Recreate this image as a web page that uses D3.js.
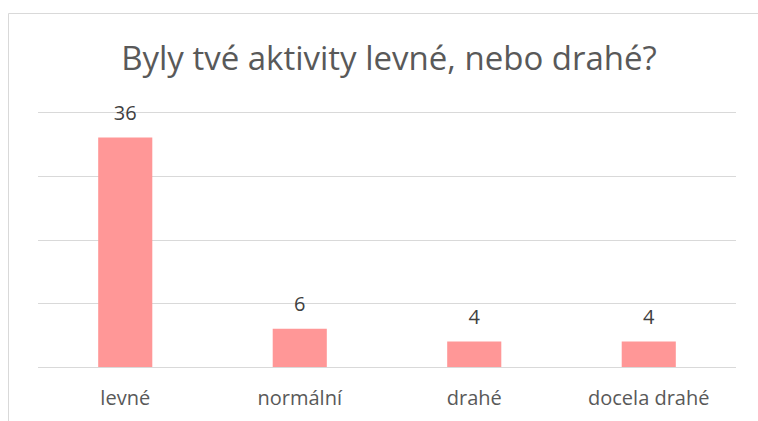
<!DOCTYPE html>
<html>
<head>
<meta charset="utf-8">
<script src="https://cdn.jsdelivr.net/npm/d3@7"></script>
<style>
  html, body { margin: 0; padding: 0; background: #fff; overflow: hidden; }
  svg { display: block; }
</style>
</head>
<body>
<div id="chart"></div>
<script>
// data
const categories = ["levné", "normální", "drahé", "docela drahé"];
const values = [36, 6, 4, 4];
const yTicks = [0, 10, 20, 30, 40];
const title = "Byly tvé aktivity levné, nebo drahé?";

const width = 758, height = 421;
const margin = { top: 112, right: 22, bottom: 54, left: 38 };
const innerWidth = width - margin.left - margin.right;
const innerHeight = height - margin.top - margin.bottom;
const fontFamily = "'Open Sans', 'Noto Sans', sans-serif";

const svg = d3.select("#chart").append("svg")
    .attr("width", width)
    .attr("height", height);

// chart area border (only top and left edges are visible)
svg.append("line")
    .attr("x1", 8.5).attr("y1", 13.5).attr("x2", width).attr("y2", 13.5)
    .attr("stroke", "#d9d9d9");
svg.append("line")
    .attr("x1", 8.5).attr("y1", 13.5).attr("x2", 8.5).attr("y2", height)
    .attr("stroke", "#d9d9d9");

// title
svg.append("text")
    .attr("x", 389).attr("y", 70)
    .attr("text-anchor", "middle")
    .style("font-family", fontFamily)
    .style("font-size", "33px")
    .style("fill", "#595959")
    .text(title);

const chart = svg.append("g")
    .attr("transform", `translate(${margin.left}, ${margin.top})`);

const xScale = d3.scaleBand()
    .domain(categories)
    .range([0, innerWidth])
    .padding(0);

const yScale = d3.scaleLinear()
    .domain([0, 40])
    .range([innerHeight, 0]);

// gridlines
chart.selectAll(".grid")
    .data(yTicks)
    .enter()
    .append("line")
    .attr("x1", 0).attr("x2", innerWidth)
    .attr("y1", d => Math.round(yScale(d)) + 0.5)
    .attr("y2", d => Math.round(yScale(d)) + 0.5)
    .attr("stroke", "#d9d9d9")
    .attr("stroke-width", 1);

const barWidth = xScale.bandwidth() * 0.31;

chart.selectAll(".bar")
    .data(values)
    .enter()
    .append("rect")
    .attr("x", (d, i) => xScale(categories[i]) + (xScale.bandwidth() - barWidth) / 2)
    .attr("y", d => yScale(d))
    .attr("width", barWidth)
    .attr("height", d => innerHeight - yScale(d))
    .attr("fill", "#ff9797");

// value labels
chart.selectAll(".value-label")
    .data(values)
    .enter()
    .append("text")
    .attr("x", (d, i) => xScale(categories[i]) + xScale.bandwidth() / 2)
    .attr("y", d => yScale(d) - 18)
    .attr("text-anchor", "middle")
    .style("font-family", fontFamily)
    .style("font-size", "20px")
    .style("fill", "#404040")
    .text(d => d);

// category labels
chart.selectAll(".cat-label")
    .data(categories)
    .enter()
    .append("text")
    .attr("x", d => xScale(d) + xScale.bandwidth() / 2)
    .attr("y", innerHeight + 38)
    .attr("text-anchor", "middle")
    .style("font-family", fontFamily)
    .style("font-size", "20px")
    .style("fill", "#595959")
    .text(d => d);
</script>
</body>
</html>
